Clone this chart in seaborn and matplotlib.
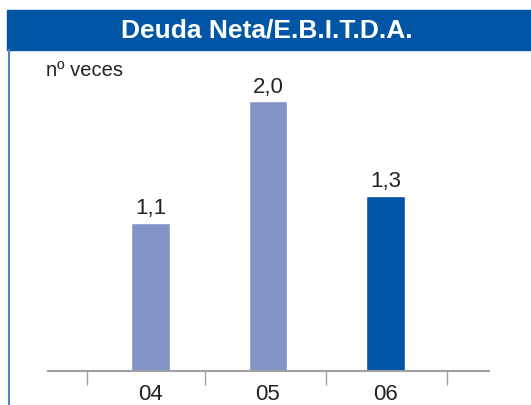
import matplotlib
matplotlib.use('Agg')
import matplotlib.pyplot as plt
import seaborn as sns
import pandas as pd
from matplotlib.patches import Rectangle
from matplotlib.lines import Line2D

# data
years = ['04', '05', '06']
ratio = [1.1, 2.0, 1.3]
labels = ['1,1', '2,0', '1,3']
bar_colors = ['#8294c8', '#8294c8', '#0055a4']

df = pd.DataFrame({'year': years, 'ratio': ratio})

sns.set_style('white')
narrow = ['Liberation Sans Narrow', 'Liberation Sans', 'DejaVu Sans']
plt.rcParams['font.family'] = narrow

W, H = 531, 406
fig = plt.figure(figsize=(W / 100, H / 100), dpi=100)

def fx(px):
    return px / W

def fy(py):
    return 1 - py / H

# title band
fig.patches.append(Rectangle((fx(7), fy(51)), fx(W), (51 - 11) / H, transform=fig.transFigure,
                             color='#0055a4', zorder=0))
fig.text(fx(266.5), fy(31), 'Deuda Neta/E.B.I.T.D.A.', color='white', fontsize=19, fontweight='bold',
         ha='center', va='center', family=['Liberation Sans', 'DejaVu Sans'])
# left frame line
fig.lines.append(Line2D([fx(8.5), fx(8.5)], [fy(51), 0], transform=fig.transFigure, color='#4f84c6', lw=1.5))

fig.text(fx(46), fy(71), 'nº veces', fontsize=14.5, color='#222222', ha='left', va='center',
         family=['Liberation Sans', 'DejaVu Sans'])

# plot area
ax = fig.add_axes([fx(48), fy(372), (489 - 48) / W, (372 - 60) / H])
sns.barplot(data=df, x='year', y='ratio', hue='year', palette=bar_colors, legend=False,
            width=0.33, saturation=1, ax=ax)
ax.set_xlim(-0.872, 2.881)
ax.set_ylim(0, 312 / 135)

for i, (v, lab) in enumerate(zip(ratio, labels)):
    ax.annotate(lab, (i, v), xytext=(0, 6.5), textcoords='offset points', ha='center', va='baseline',
                fontsize=16, color='#222222')

sns.despine(ax=ax, left=True, top=True, right=True)
ax.spines['bottom'].set_color('#a0a0a0')
ax.spines['bottom'].set_linewidth(1.5)
ax.set_yticks([])
ax.set_xlabel('')
ax.set_ylabel('')
ax.set_xticks([-0.54, 0.46, 1.49, 2.52], minor=True)
ax.tick_params(axis='x', which='minor', bottom=True, length=10, width=1, color='#a0a0a0', direction='out')
ax.tick_params(axis='x', which='major', bottom=False, length=0, pad=9, labelsize=16, labelcolor='#222222')
ax.set_facecolor('none')

fig.savefig('out.png', dpi=100)
